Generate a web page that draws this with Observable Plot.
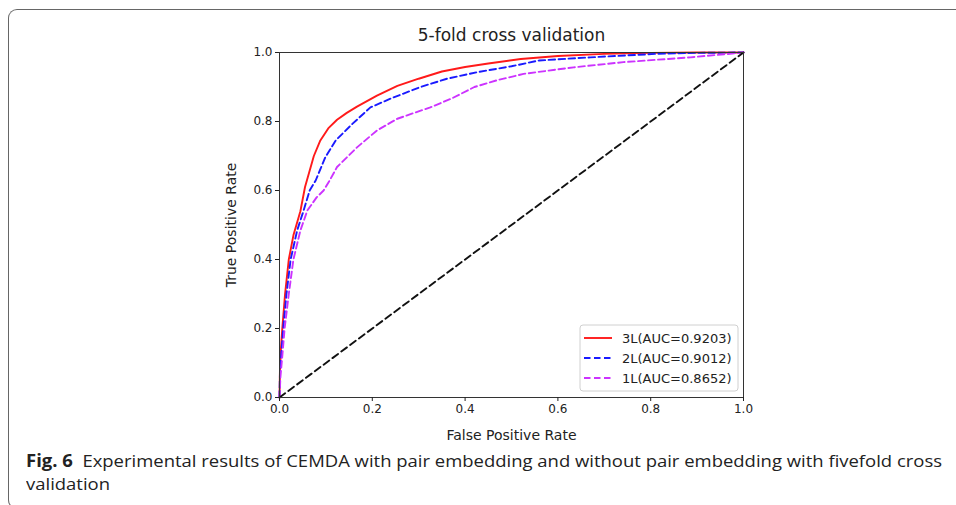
<!DOCTYPE html>
<html><head><meta charset="utf-8">
<script src="https://cdn.jsdelivr.net/npm/d3@7"></script>
<script src="https://cdn.jsdelivr.net/npm/@observablehq/plot@0.6"></script>
<style>
body{margin:0;background:#fff;}
#fig{position:relative;width:956px;height:505px;overflow:hidden;background:#fff;}
#border{position:absolute;left:8px;top:9px;width:1000px;height:498px;border-top:1.5px solid #666;border-left:1.5px solid #666;border-bottom:1.5px solid #666;border-radius:9px 0 0 9px;}
#chart{position:absolute;left:0;top:0;}
#caption{position:absolute;left:26px;top:449px;font-family:"Open Sans";font-size:17px;line-height:23px;color:#222;white-space:nowrap;transform-origin:0 0;}
</style></head>
<body>
<div id="fig"><div id="border"></div><div id="chart"></div>
<div id="caption"><div id="cap1"><b>Fig. 6</b>&nbsp; Experimental results of CEMDA with pair embedding and without pair embedding with fivefold cross</div><div>validation</div></div>
</div>
<script>
const ticks = [0, 0.2, 0.4, 0.6, 0.8, 1.0];
const seriesNames = ["3L(AUC=0.9203)", "2L(AUC=0.9012)", "1L(AUC=0.8652)"];
const colors = ["#ff1a1a", "#1a1aff", "#cc33ff"];
const dashes = [null, "6.5,3.5", "6.5,3.5"];

const fpr3 = [0, 0.001, 0.003, 0.006, 0.012, 0.02, 0.03, 0.045, 0.055, 0.074, 0.088, 0.105, 0.124, 0.145, 0.167, 0.21, 0.254, 0.3, 0.35, 0.4, 0.45, 0.52, 0.6, 0.7, 0.8, 0.9, 1.0];
const tpr3 = [0, 0.08, 0.14, 0.2, 0.3, 0.4, 0.47, 0.54, 0.61, 0.70, 0.745, 0.78, 0.805, 0.825, 0.843, 0.875, 0.903, 0.924, 0.945, 0.958, 0.968, 0.981, 0.99, 0.996, 0.999, 1.0, 1.0];

const fpr2 = [0, 0.001, 0.004, 0.008, 0.015, 0.024, 0.038, 0.052, 0.065, 0.078, 0.099, 0.121, 0.157, 0.196, 0.246, 0.304, 0.361, 0.426, 0.5, 0.56, 0.67, 0.81, 0.9, 1.0];
const tpr2 = [0, 0.07, 0.13, 0.2, 0.3, 0.4, 0.484, 0.542, 0.6, 0.629, 0.697, 0.745, 0.793, 0.841, 0.87, 0.9, 0.924, 0.943, 0.96, 0.977, 0.986, 0.996, 0.999, 1.0];

const fpr1 = [0, 0.002, 0.006, 0.011, 0.02, 0.03, 0.045, 0.06, 0.08, 0.095, 0.108, 0.124, 0.167, 0.21, 0.254, 0.325, 0.37, 0.42, 0.47, 0.526, 0.634, 0.741, 0.886, 1.0];
const tpr1 = [0, 0.06, 0.12, 0.2, 0.3, 0.4, 0.484, 0.542, 0.58, 0.6, 0.629, 0.668, 0.725, 0.774, 0.808, 0.841, 0.866, 0.9, 0.92, 0.938, 0.957, 0.972, 0.986, 1.0];

const diag = [0, 1];

const toRows = (xs, ys) => xs.map((x, i) => ({fpr: x, tpr: ys[i]}));
const series = [toRows(fpr3, tpr3), toRows(fpr2, tpr2), toRows(fpr1, tpr1)];
const fmt = d3.format(".1f");

const chart = Plot.plot({
  width: 956,
  height: 446,
  marginLeft: 279,
  marginRight: 213,
  marginTop: 52,
  marginBottom: 49,
  style: {fontFamily: "DejaVu Sans", color: "#222", background: "transparent", overflow: "visible"},
  x: {domain: [0, 1]},
  y: {domain: [0, 1]},
  marks: [
    ...series.map((rows, i) => Plot.line(rows, {x: "fpr", y: "tpr", stroke: colors[i], strokeWidth: 1.9, strokeDasharray: dashes[i]})),
    Plot.line(diag, {x: d => d, y: d => d, stroke: "#111", strokeWidth: 1.9, strokeDasharray: "7,4"}),
    Plot.frame({stroke: "#333", strokeWidth: 1}),
    Plot.axisX({ticks, tickFormat: fmt, tickSize: 4, tickPadding: 3, fontSize: 12, label: null}),
    Plot.axisY({ticks, tickFormat: fmt, tickSize: 4, tickPadding: 3, fontSize: 12, label: null}),
    Plot.text(["5-fold cross validation"], {text: d => d, frameAnchor: "top", dy: -17, lineAnchor: "middle", textAnchor: "middle", fontSize: 17}),
    Plot.text(["False Positive Rate"], {text: d => d, frameAnchor: "bottom", dy: 38, lineAnchor: "middle", textAnchor: "middle", fontSize: 14}),
    Plot.text(["True Positive Rate"], {text: d => d, frameAnchor: "left", dx: -48, rotate: -90, lineAnchor: "middle", textAnchor: "middle", fontSize: 14})
  ]
});
document.getElementById("chart").appendChild(chart);

// legend box (lower right of axes)
const svg = d3.select(chart);
const lg = svg.append("g").style("font-family", "DejaVu Sans").style("font-size", "13px");
lg.append("rect").attr("x", 580).attr("y", 325).attr("width", 158).attr("height", 66).attr("rx", 3)
  .attr("fill", "#fff").attr("fill-opacity", 0.85).attr("stroke", "#d0d0d0");
seriesNames.forEach((name, i) => {
  const cy = 338 + i * 20;
  lg.append("line").attr("x1", 584).attr("x2", 612).attr("y1", cy).attr("y2", cy)
    .attr("stroke", colors[i]).attr("stroke-width", 1.9).attr("stroke-dasharray", dashes[i]);
  lg.append("text").attr("x", 622).attr("y", cy).attr("dy", "0.35em")
    .style("text-anchor", "start").attr("fill", "#222").text(name);
});

// fit caption width
const cap = document.getElementById("caption");
const w = document.getElementById("cap1").getBoundingClientRect().width;
cap.style.transform = `scaleX(${916 / w})`;
</script>
</body></html>
